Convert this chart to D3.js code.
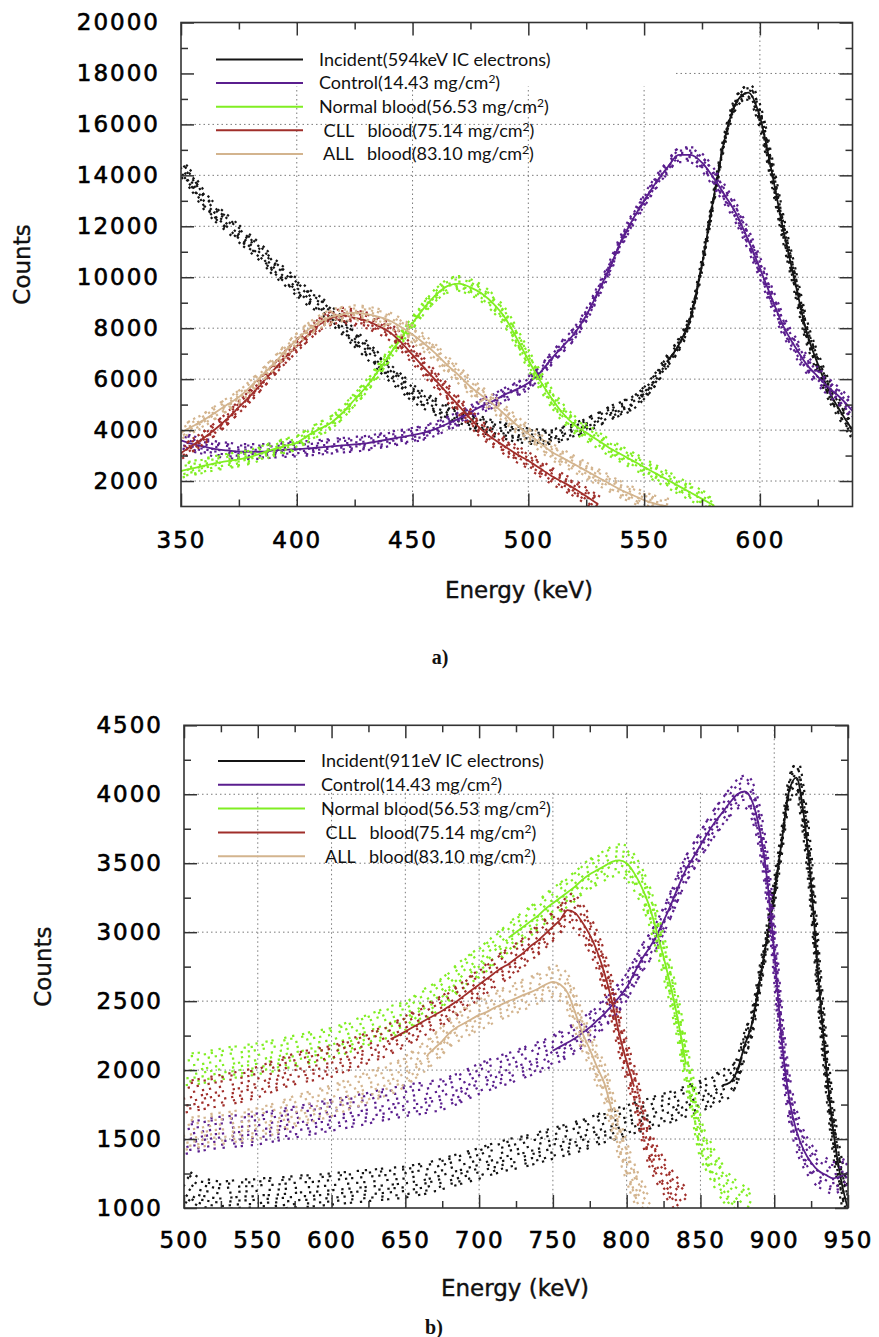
<!DOCTYPE html>
<html>
<head>
<meta charset="utf-8">
<script src="https://cdn.jsdelivr.net/npm/d3@7"></script>
<style>
  body { margin: 0; background: #fff; }
  svg { display: block; }
  .legend text { white-space: pre; }
</style>
</head>
<body>
<script>

// ===== data, panel a (594 keV) =====
var energyA = [350,355,360,365,370,375,380,385,390,395,
               400,405,410,415,420,425,430,435,440,445,
               450,455,460,465,470,475,480,485,490,495,
               500,505,510,515,520,525,530,535,540,545,
               550,555,560,565,570,575,580,585,590,595,
               600,605,610,615,620,625,630,635,640];

var incidentA = [14300,13700,13000,12500,12100,11700,11300,10900,10400,10000,
                 9600,9200,8900,8500,8050,7600,7150,6700,6250,5850,
                 5450,5150,4900,4700,4500,4350,4200,4050,3950,3830,
                 3760,3720,3740,3850,4000,4200,4400,4650,4850,5050,
                 5450,6000,6700,7350,8400,10500,13100,15500,16900,17250,
                 16300,14200,11900,9900,7900,6600,5500,4700,4000];

var controlA = [3600,3450,3350,3250,3200,3150,3150,3150,3200,3230,
                3250,3280,3320,3360,3400,3440,3480,3560,3640,3720,
                3800,3900,4050,4250,4450,4700,4950,5150,5400,5600,
                5850,6250,6800,7300,7800,8500,9400,10350,11400,12250,
                13000,13700,14300,14800,14800,14500,13900,13200,12450,11450,
                10350,9200,8100,7300,6600,6100,5650,5250,4750];

var normalA = [2400,2500,2600,2700,2780,2850,2950,3100,3250,3380,
               3500,3800,4050,4300,4700,5200,5700,6300,6950,7600,
               8200,8800,9300,9650,9750,9600,9350,8950,8400,7600,
               6750,5950,5250,4650,4200,3900,3600,3300,3050,2800,
               2550,2300,2050,1800,1550,1300,1050];

var cllA = [3100,3400,3700,4050,4450,4900,5350,5850,6350,6850,
            7300,7750,8150,8400,8500,8400,8300,8100,7850,7450,
            6950,6450,5950,5450,4950,4450,4000,3650,3350,3050,
            2800,2500,2200,1950,1700,1400,1100];

var allA = [3900,4150,4400,4700,5000,5300,5700,6150,6600,7100,
            7550,7950,8250,8450,8550,8600,8550,8450,8300,8050,
            7750,7400,7000,6550,6150,5700,5350,5000,4600,4200,
            3850,3500,3150,2900,2650,2400,2150,1900,1650,1450,
            1250,1100,1000];

// keV range covered by the fitted line of each series
var fitA = [[560,640],[350,640],[350,580],[350,530],[350,560]];

// ===== data, panel b (911 keV) =====
var energyB = [500,505,510,515,520,525,530,535,540,545,
               550,555,560,565,570,575,580,585,590,595,
               600,605,610,615,620,625,630,635,640,645,
               650,655,660,665,670,675,680,685,690,695,
               700,705,710,715,720,725,730,735,740,745,
               750,755,760,765,770,775,780,785,790,795,
               800,805,810,815,820,825,830,835,840,845,
               850,855,860,865,870,875,880,885,890,895,
               900,905,910,915,920,925,930,935,940,945,
               950];

var incidentB = [1170,1130,1100,1090,1080,1075,1080,1085,1090,1090,
                 1095,1100,1100,1105,1110,1115,1120,1120,1125,1130,
                 1135,1140,1145,1150,1155,1160,1165,1170,1175,1180,
                 1185,1195,1205,1215,1230,1245,1260,1275,1290,1305,
                 1320,1340,1355,1370,1385,1395,1405,1420,1435,1450,
                 1465,1480,1495,1510,1525,1545,1565,1585,1600,1615,
                 1630,1650,1665,1680,1700,1715,1730,1750,1770,1790,
                 1810,1830,1860,1890,1910,2000,2180,2340,2640,2950,
                 3280,3650,4020,4120,3850,3350,2650,2050,1560,1220,
                 990];

var controlB = [1500,1510,1520,1530,1540,1545,1550,1555,1560,1565,
                1570,1580,1590,1600,1610,1620,1630,1640,1650,1660,
                1670,1680,1690,1700,1710,1720,1735,1745,1755,1765,
                1775,1785,1790,1800,1810,1820,1840,1860,1885,1910,
                1935,1955,1975,1995,2010,2030,2050,2070,2090,2110,
                2140,2170,2200,2230,2270,2310,2360,2410,2470,2530,
                2600,2700,2800,2880,2970,3080,3200,3330,3450,3540,
                3630,3720,3800,3870,3940,4000,4020,3950,3750,3400,
                2860,2230,1800,1560,1420,1330,1270,1240,1215,1230,
                1260];

var normalB = [2000,2005,2010,2020,2030,2040,2050,2055,2065,2070,
               2080,2090,2100,2110,2125,2135,2145,2160,2170,2180,
               2190,2210,2230,2250,2270,2290,2310,2330,2350,2365,
               2380,2420,2460,2490,2520,2560,2610,2660,2700,2740,
               2780,2820,2870,2910,2960,3000,3040,3080,3120,3170,
               3210,3250,3290,3330,3380,3420,3450,3480,3510,3520,
               3500,3430,3330,3200,3020,2820,2600,2350,2050,1780,
               1500,1380,1270,1180,1110,1070,1030,1000];

var cllB = [1800,1810,1820,1830,1840,1850,1860,1870,1880,1895,
            1910,1930,1950,1970,1990,2005,2020,2030,2040,2050,
            2060,2080,2100,2120,2140,2160,2180,2200,2225,2250,
            2280,2310,2340,2370,2400,2430,2465,2500,2540,2580,
            2620,2660,2700,2740,2770,2810,2850,2900,2940,2990,
            3040,3090,3160,3140,3070,2980,2860,2700,2500,2260,
            2060,1880,1650,1450,1320,1230,1150,1080,1020];

var allB = [1530,1540,1550,1560,1570,1575,1580,1590,1595,1600,
            1610,1625,1640,1660,1680,1700,1715,1730,1745,1760,
            1775,1795,1815,1835,1855,1875,1895,1915,1935,1955,
            1990,2030,2070,2110,2160,2210,2270,2310,2340,2370,
            2400,2420,2450,2475,2500,2520,2545,2565,2590,2620,
            2640,2620,2560,2420,2270,2150,2020,1900,1700,1500,
            1330,1180,1060,1000];

var fitB = [[865,950],[750,950],[720,840],[640,805],[665,790]];

// legend labels (the part before the superscript 2)
var labelsA = ["Incident(594keV IC electrons)", "Control(14.43 mg/cm", "Normal blood(56.53 mg/cm",
               " CLL   blood(75.14 mg/cm", " ALL   blood(83.10 mg/cm"];
var labelsB = ["Incident(911eV IC electrons)", "Control(14.43 mg/cm", "Normal blood(56.53 mg/cm",
               " CLL   blood(75.14 mg/cm", " ALL   blood(83.10 mg/cm"];

var colors = ["#141414", "#5a1e8e", "#80ee22", "#a02e2a", "#d3b48e"];

// ===== drawing =====
var svg = d3.select("body").append("svg")
    .attr("width", 879)
    .attr("height", 1337);

// rows of dots drawn along each curve to show the measured points as a band
var dotRows = [
    {dx: 0.0,  dy: 0.05,  dash: "0.1 7 0.1 11 0.1 5 0.1 9",   off: 0},
    {dx: 1.6,  dy: -0.95, dash: "0.1 10 0.1 6 0.1 13 0.1 8", off: 3},
    {dx: -1.3, dy: 0.9,   dash: "0.1 9 0.1 12 0.1 6 0.1 10", off: 5},
    {dx: 0.7,  dy: -0.55, dash: "0.1 6 0.1 9 0.1 11 0.1 7",  off: 2},
    {dx: -0.6, dy: 0.5,   dash: "0.1 11 0.1 7 0.1 8 0.1 12", off: 7},
    {dx: 1.1,  dy: -0.25, dash: "0.1 13 0.1 9 0.1 7 0.1 10", off: 4},
    {dx: -1.0, dy: 0.28,  dash: "0.1 8 0.1 14 0.1 9 0.1 6",  off: 9},
    {dx: 0.3,  dy: 0.7,   dash: "0.1 12 0.1 8 0.1 10 0.1 14", off: 6},
    {dx: -0.2, dy: -0.78, dash: "0.1 9 0.1 13 0.1 7 0.1 11", off: 1}
];

function drawPanel(p) {
    var x = d3.scaleLinear().domain(p.xDomain).range([p.left, p.right]);
    var y = d3.scaleLinear().domain(p.yDomain).range([p.bottom, p.top]);

    var g = svg.append("g");

    // grid
    g.selectAll(".vgrid").data(p.xGrid).enter().append("line")
        .attr("x1", d => x(d)).attr("x2", d => x(d))
        .attr("y1", p.top).attr("y2", p.bottom)
        .attr("stroke", "#7a7a7a").attr("stroke-width", 1)
        .attr("stroke-dasharray", "1.5,3");
    g.selectAll(".hgrid").data(p.yGrid).enter().append("line")
        .attr("x1", p.left).attr("x2", p.right)
        .attr("y1", d => y(d)).attr("y2", d => y(d))
        .attr("stroke", "#7a7a7a").attr("stroke-width", 1)
        .attr("stroke-dasharray", "1.5,3");

    // legend background hides the upper grid
    g.append("rect")
        .attr("x", p.left + 1).attr("y", p.top + 1)
        .attr("width", p.maskW).attr("height", p.maskH)
        .attr("fill", "#fff");

    // clip for the data
    var clipId = "clip" + p.id;
    svg.append("clipPath").attr("id", clipId)
        .append("rect")
        .attr("x", p.left).attr("y", p.top)
        .attr("width", p.right - p.left).attr("height", p.bottom - p.top);

    var plot = g.append("g").attr("clip-path", `url(#${clipId})`);

    var line = d3.line()
        .x(d => x(d[0]))
        .y(d => y(d[1]))
        .curve(d3.curveMonotoneX);

    p.series.forEach(function (vals, i) {
        var pts = vals.map((v, j) => [p.energy[j], v]);
        var dPath = line(pts);

        // measured points
        dotRows.forEach(function (r) {
            plot.append("path")
                .attr("d", dPath)
                .attr("transform", `translate(${r.dx},${r.dy * p.spread})`)
                .attr("fill", "none")
                .attr("stroke", colors[i])
                .attr("stroke-width", 2.2)
                .attr("stroke-linecap", "square")
                .attr("stroke-dasharray", r.dash)
                .attr("stroke-dashoffset", r.off);
        });

        // fitted line
        var fit = pts.filter(d => d[0] >= p.fit[i][0] && d[0] <= p.fit[i][1]);
        plot.append("path")
            .attr("d", line(fit))
            .attr("fill", "none")
            .attr("stroke", colors[i])
            .attr("stroke-width", 1.8);
    });

    // ticks on all four sides, pointing inwards
    function styleAxis(a) {
        a.select(".domain").remove();
        a.attr("color", "#333");
        a.selectAll(".tick line").attr("stroke-width", 1.5);
        a.selectAll("text")
            .attr("fill", "#000")
            .attr("stroke", "#000")
            .attr("stroke-width", 0.6)
            .attr("font-family", "'DejaVu Sans', sans-serif")
            .attr("font-size", 23)
            .attr("letter-spacing", 2);
    }
    var fmt = d3.format("d");

    g.append("g").attr("transform", `translate(0,${p.bottom})`)
        .call(d3.axisBottom(x).tickValues(p.xMajor).tickSize(-13).tickPadding(p.xPad).tickFormat(fmt))
        .call(styleAxis);
    g.append("g").attr("transform", `translate(0,${p.bottom})`)
        .call(d3.axisBottom(x).tickValues(p.xMinor).tickSize(-7).tickFormat(""))
        .call(styleAxis);
    g.append("g").attr("transform", `translate(0,${p.top})`)
        .call(d3.axisTop(x).tickValues(p.xMajor).tickSize(-13).tickFormat(""))
        .call(styleAxis);
    g.append("g").attr("transform", `translate(0,${p.top})`)
        .call(d3.axisTop(x).tickValues(p.xMinor).tickSize(-7).tickFormat(""))
        .call(styleAxis);

    g.append("g").attr("transform", `translate(${p.left},0)`)
        .call(d3.axisLeft(y).tickValues(p.yMajor).tickSize(-13).tickPadding(21).tickFormat(fmt))
        .call(styleAxis);
    g.append("g").attr("transform", `translate(${p.left},0)`)
        .call(d3.axisLeft(y).tickValues(p.yMinor).tickSize(-7).tickFormat(""))
        .call(styleAxis);
    g.append("g").attr("transform", `translate(${p.right},0)`)
        .call(d3.axisRight(y).tickValues(p.yMajor).tickSize(-13).tickFormat(""))
        .call(styleAxis);
    g.append("g").attr("transform", `translate(${p.right},0)`)
        .call(d3.axisRight(y).tickValues(p.yMinor).tickSize(-7).tickFormat(""))
        .call(styleAxis);

    // frame
    g.append("rect")
        .attr("x", p.left).attr("y", p.top)
        .attr("width", p.right - p.left).attr("height", p.bottom - p.top)
        .attr("fill", "none").attr("stroke", "#333").attr("stroke-width", 1.6);

    // legend
    var lg = g.append("g").attr("class", "legend");
    p.labels.forEach(function (lab, i) {
        var ry = p.legendY + i * p.legendStep;
        lg.append("line")
            .attr("x1", p.legendX).attr("x2", p.legendX + 87)
            .attr("y1", ry).attr("y2", ry)
            .attr("stroke", colors[i]).attr("stroke-width", 2);
        var t = lg.append("text")
            .attr("x", p.legendX + 103).attr("y", ry).attr("dy", "0.35em")
            .attr("font-family", "Lato, 'DejaVu Sans', sans-serif")
            .attr("font-size", 18)
            .attr("fill", "#111");
        t.append("tspan").text(lab);
        if (i > 0) {
            t.append("tspan").attr("dy", -6).attr("font-size", 12).text("2");
            t.append("tspan").attr("dy", 6).text(")");
        }
    });

    // axis titles
    svg.append("text")
        .attr("transform", `translate(${p.countsX},${(p.top + p.bottom) / 2}) rotate(-90)`)
        .attr("text-anchor", "middle").attr("dy", "0.35em")
        .attr("font-family", "'DejaVu Sans', sans-serif").attr("font-size", 23)
        .attr("fill", "#111").attr("stroke", "#111").attr("stroke-width", 0.4)
        .text("Counts");
    svg.append("text")
        .attr("x", p.energyX).attr("y", p.energyY)
        .attr("text-anchor", "middle").attr("dy", "0.35em")
        .attr("font-family", "'DejaVu Sans', sans-serif").attr("font-size", 23)
        .attr("fill", "#111").attr("stroke", "#111").attr("stroke-width", 0.4)
        .text("Energy (keV)");
    svg.append("text")
        .attr("x", p.tagX).attr("y", p.tagY)
        .attr("text-anchor", "middle").attr("dy", "0.35em")
        .attr("font-family", "'Liberation Serif', serif").attr("font-weight", "bold")
        .attr("font-size", 20)
        .attr("fill", "#111")
        .text(p.tag);
}

drawPanel({
    id: "a",
    left: 181, right: 852.5, top: 22.5, bottom: 506.5,
    xDomain: [350, 640], yDomain: [1000, 20000],
    xMajor: [350, 400, 450, 500, 550, 600],
    xMinor: [375, 425, 475, 525, 575, 625],
    yMajor: [2000, 4000, 6000, 8000, 10000, 12000, 14000, 16000, 18000, 20000],
    yMinor: [3000, 5000, 7000, 9000, 11000, 13000, 15000, 17000, 19000],
    xGrid: [400, 450, 500, 550, 600],
    yGrid: [2000, 4000, 6000, 8000, 10000, 12000, 14000, 16000, 18000],
    xPad: 25,
    maskW: 491, maskH: 63,
    energy: energyA,
    series: [incidentA, controlA, normalA, cllA, allA],
    fit: fitA,
    spread: 8,
    labels: labelsA,
    legendX: 216, legendY: 59.5, legendStep: 23.6,
    countsX: 22, energyX: 519, energyY: 590,
    tag: "a)", tagX: 440, tagY: 657
});

drawPanel({
    id: "b",
    left: 184, right: 848, top: 725.3, bottom: 1208,
    xDomain: [500, 950], yDomain: [1000, 4500],
    xMajor: [500, 550, 600, 650, 700, 750, 800, 850, 900, 950],
    xMinor: [525, 575, 625, 675, 725, 775, 825, 875, 925],
    yMajor: [1000, 1500, 2000, 2500, 3000, 3500, 4000, 4500],
    yMinor: [1250, 1750, 2250, 2750, 3250, 3750, 4250],
    xGrid: [550, 600, 650, 700, 750, 800, 850, 900],
    yGrid: [1500, 2000, 2500, 3000, 3500, 4000],
    xPad: 24,
    maskW: 575, maskH: 64,
    energy: energyB,
    series: [incidentB, controlB, normalB, cllB, allB],
    fit: fitB,
    spread: 17,
    labels: labelsB,
    legendX: 218, legendY: 761, legendStep: 23.8,
    countsX: 43, energyX: 515, energyY: 1288,
    tag: "b)", tagX: 434, tagY: 1327
});

</script>
</body>
</html>
